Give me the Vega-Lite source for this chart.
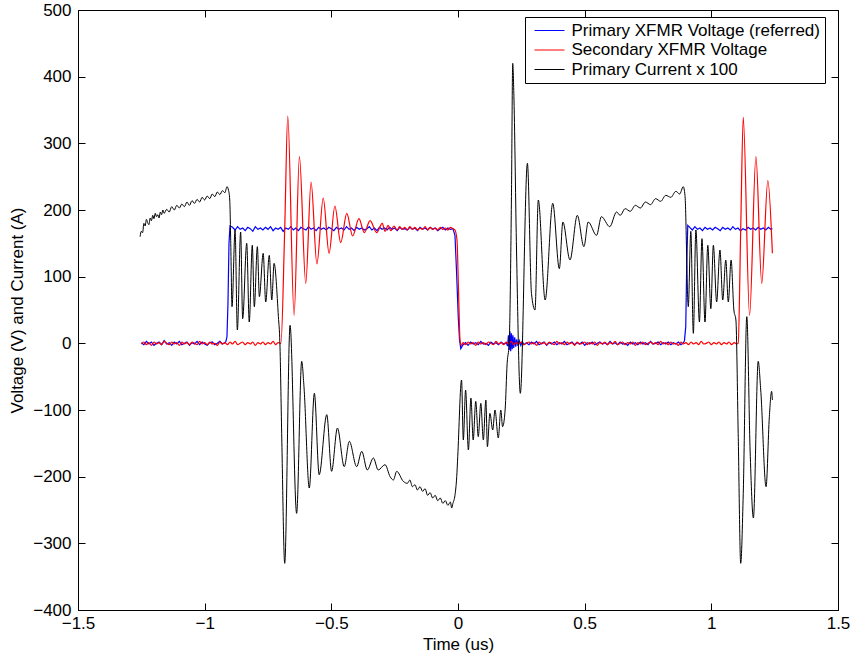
{
"$schema": "https://vega.github.io/schema/vega-lite/v6.json",
"width": 760, "height": 600,
"autosize": "none",
"padding": {"left": 78, "top": 10, "right": 12, "bottom": 49},
"background": "white",
"config": {
  "view": {"stroke": "black", "strokeWidth": 1},
  "font": "Liberation Sans",
  "axis": {"domainColor": "black", "tickColor": "black", "labelColor": "black", "titleColor": "black", "grid": false, "labelFontSize": 17, "titleFontSize": 17, "titleFontWeight": "normal", "tickSize": -7, "labelFont": "Liberation Sans", "titleFont": "Liberation Sans", "domainWidth": 1, "tickWidth": 1, "labelFlush": false}
},
"datasets": {
"pv": [
{"t":-1.25,"v":1},{"t":-1.24,"v":-2},{"t":-1.23,"v":3},{"t":-1.22,"v":-1},{"t":-1.21,"v":2},{"t":-1.2,"v":-3},{"t":-1.19,"v":0},{"t":-1.18,"v":2},{"t":-1.17,"v":-2},{"t":-1.16,"v":4},{"t":-1.15,"v":-1},{"t":-1.14,"v":1},{"t":-1.13,"v":-3},{"t":-1.12,"v":2},{"t":-1.11,"v":-1},{"t":-1.1,"v":3},{"t":-1.09,"v":-2},{"t":-1.08,"v":0},{"t":-1.07,"v":2},{"t":-1.06,"v":-3},{"t":-1.05,"v":1},{"t":-1.04,"v":-1},{"t":-1.03,"v":3},{"t":-1.02,"v":-2},{"t":-1.01,"v":2},{"t":-1.0,"v":-1},{"t":-0.99,"v":-3},{"t":-0.98,"v":1},{"t":-0.97,"v":2},{"t":-0.96,"v":-2},{"t":-0.95,"v":0},{"t":-0.94,"v":3},{"t":-0.93,"v":-1},{"t":-0.92,"v":1},
{"t":-0.916,"v":3},{"t":-0.912,"v":10},{"t":-0.908,"v":60},{"t":-0.904,"v":150},{"t":-0.9,"v":176},
{"t":-0.89,"v":174},{"t":-0.88,"v":170},{"t":-0.87,"v":175},{"t":-0.86,"v":171},{"t":-0.85,"v":173},{"t":-0.84,"v":169},{"t":-0.83,"v":174},{"t":-0.82,"v":172},{"t":-0.81,"v":168},{"t":-0.8,"v":175},{"t":-0.79,"v":171},{"t":-0.78,"v":173},{"t":-0.77,"v":170},{"t":-0.76,"v":174},{"t":-0.75,"v":171},{"t":-0.74,"v":175},{"t":-0.73,"v":169},{"t":-0.72,"v":173},{"t":-0.71,"v":171},{"t":-0.7,"v":174},{"t":-0.69,"v":168},{"t":-0.68,"v":173},{"t":-0.67,"v":171},{"t":-0.66,"v":175},{"t":-0.65,"v":170},{"t":-0.64,"v":173},{"t":-0.63,"v":169},{"t":-0.62,"v":174},{"t":-0.61,"v":172},{"t":-0.6,"v":170},{"t":-0.59,"v":175},{"t":-0.58,"v":171},{"t":-0.57,"v":173},{"t":-0.56,"v":169},{"t":-0.55,"v":174},{"t":-0.54,"v":171},{"t":-0.53,"v":173},{"t":-0.52,"v":170},{"t":-0.51,"v":174},{"t":-0.5,"v":172},{"t":-0.49,"v":169},{"t":-0.48,"v":174},{"t":-0.47,"v":171},{"t":-0.46,"v":173},{"t":-0.45,"v":170},{"t":-0.44,"v":175},{"t":-0.43,"v":171},{"t":-0.42,"v":173},{"t":-0.41,"v":169},{"t":-0.4,"v":174},{"t":-0.39,"v":171},{"t":-0.38,"v":173},{"t":-0.37,"v":170},{"t":-0.36,"v":172},{"t":-0.35,"v":175},{"t":-0.34,"v":170},{"t":-0.33,"v":173},{"t":-0.32,"v":169},{"t":-0.31,"v":174},{"t":-0.3,"v":171},{"t":-0.29,"v":173},{"t":-0.28,"v":170},{"t":-0.27,"v":174},{"t":-0.26,"v":171},{"t":-0.25,"v":173},{"t":-0.24,"v":169},{"t":-0.23,"v":174},{"t":-0.22,"v":171},{"t":-0.21,"v":172},{"t":-0.2,"v":170},{"t":-0.19,"v":174},{"t":-0.18,"v":171},{"t":-0.17,"v":173},{"t":-0.16,"v":169},{"t":-0.15,"v":174},{"t":-0.14,"v":171},{"t":-0.13,"v":173},{"t":-0.12,"v":170},{"t":-0.11,"v":174},{"t":-0.1,"v":171},{"t":-0.09,"v":173},{"t":-0.08,"v":169},{"t":-0.07,"v":172},{"t":-0.06,"v":174},{"t":-0.05,"v":170},{"t":-0.04,"v":173},{"t":-0.03,"v":171},{"t":-0.02,"v":172},
{"t":-0.012,"v":162},{"t":-0.006,"v":110},{"t":0.001,"v":40},{"t":0.006,"v":5},{"t":0.011,"v":-8},
{"t":0.02,"v":-2},{"t":0.03,"v":1},{"t":0.04,"v":-3},{"t":0.05,"v":2},{"t":0.06,"v":-1},{"t":0.07,"v":1},{"t":0.08,"v":-2},{"t":0.09,"v":3},{"t":0.1,"v":-1},{"t":0.11,"v":0},{"t":0.12,"v":-3},{"t":0.13,"v":2},{"t":0.14,"v":-1},{"t":0.15,"v":1},{"t":0.16,"v":-2},{"t":0.17,"v":2},{"t":0.18,"v":-1},{"t":0.19,"v":1},
{"t":0.196,"v":-4},{"t":0.199,"v":12},{"t":0.202,"v":-10},{"t":0.205,"v":18},{"t":0.208,"v":-12},{"t":0.211,"v":15},{"t":0.214,"v":-9},{"t":0.217,"v":12},{"t":0.22,"v":-7},{"t":0.224,"v":9},{"t":0.228,"v":-5},{"t":0.232,"v":6},{"t":0.237,"v":-4},{"t":0.242,"v":4},{"t":0.248,"v":-3},{"t":0.254,"v":3},
{"t":0.26,"v":-2},{"t":0.27,"v":1},{"t":0.28,"v":-2},{"t":0.29,"v":2},{"t":0.3,"v":-1},{"t":0.31,"v":3},{"t":0.32,"v":-2},{"t":0.33,"v":0},{"t":0.34,"v":2},{"t":0.35,"v":-3},{"t":0.36,"v":1},{"t":0.37,"v":-1},{"t":0.38,"v":2},{"t":0.39,"v":-2},{"t":0.4,"v":1},{"t":0.41,"v":-1},{"t":0.42,"v":3},{"t":0.43,"v":-2},{"t":0.44,"v":0},{"t":0.45,"v":2},{"t":0.46,"v":-2},{"t":0.47,"v":1},{"t":0.48,"v":-1},{"t":0.49,"v":2},{"t":0.5,"v":-3},{"t":0.51,"v":1},{"t":0.52,"v":-1},{"t":0.53,"v":2},{"t":0.54,"v":-2},{"t":0.55,"v":0},{"t":0.56,"v":2},{"t":0.57,"v":-1},{"t":0.58,"v":1},{"t":0.59,"v":-2},{"t":0.6,"v":3},{"t":0.61,"v":-1},{"t":0.62,"v":1},{"t":0.63,"v":-2},{"t":0.64,"v":2},{"t":0.65,"v":-1},{"t":0.66,"v":0},{"t":0.67,"v":-3},{"t":0.68,"v":2},{"t":0.69,"v":-1},{"t":0.7,"v":1},{"t":0.71,"v":-2},{"t":0.72,"v":2},{"t":0.73,"v":-1},{"t":0.74,"v":1},{"t":0.75,"v":-2},{"t":0.76,"v":3},{"t":0.77,"v":-1},{"t":0.78,"v":0},{"t":0.79,"v":2},{"t":0.8,"v":-2},{"t":0.81,"v":1},{"t":0.82,"v":-1},{"t":0.83,"v":2},{"t":0.84,"v":-2},{"t":0.85,"v":1},{"t":0.86,"v":-1},{"t":0.87,"v":2},{"t":0.88,"v":-2},{"t":0.89,"v":1},
{"t":0.894,"v":4},{"t":0.899,"v":25},{"t":0.903,"v":120},{"t":0.907,"v":177},
{"t":0.915,"v":174},{"t":0.925,"v":170},{"t":0.935,"v":175},{"t":0.945,"v":171},{"t":0.955,"v":173},{"t":0.965,"v":169},{"t":0.975,"v":174},{"t":0.985,"v":171},{"t":0.995,"v":173},{"t":1.005,"v":170},{"t":1.015,"v":174},{"t":1.025,"v":172},{"t":1.035,"v":169},{"t":1.045,"v":174},{"t":1.055,"v":171},{"t":1.065,"v":173},{"t":1.075,"v":170},{"t":1.085,"v":175},{"t":1.095,"v":171},{"t":1.105,"v":173},{"t":1.115,"v":169},{"t":1.125,"v":172},{"t":1.135,"v":170},{"t":1.145,"v":174},{"t":1.155,"v":171},{"t":1.165,"v":173},{"t":1.175,"v":170},{"t":1.185,"v":174},{"t":1.195,"v":171},{"t":1.205,"v":173},{"t":1.215,"v":170},{"t":1.225,"v":174},{"t":1.235,"v":171},{"t":1.241,"v":172}
],
"sv": [
{"t":-1.25,"v":-1},{"t":-1.24,"v":2},{"t":-1.23,"v":-2},{"t":-1.22,"v":1},{"t":-1.21,"v":-3},{"t":-1.2,"v":2},{"t":-1.19,"v":-1},{"t":-1.18,"v":1},{"t":-1.17,"v":-2},{"t":-1.16,"v":3},{"t":-1.15,"v":0},{"t":-1.14,"v":-2},{"t":-1.13,"v":2},{"t":-1.12,"v":-1},{"t":-1.11,"v":1},{"t":-1.1,"v":-3},{"t":-1.09,"v":2},{"t":-1.08,"v":-1},{"t":-1.07,"v":1},{"t":-1.06,"v":-2},{"t":-1.05,"v":2},{"t":-1.04,"v":0},{"t":-1.03,"v":-2},{"t":-1.02,"v":3},{"t":-1.01,"v":-1},{"t":-1.0,"v":1},{"t":-0.99,"v":-2},{"t":-0.98,"v":2},{"t":-0.97,"v":-1},{"t":-0.96,"v":0},{"t":-0.95,"v":-3},{"t":-0.94,"v":2},{"t":-0.93,"v":-1},{"t":-0.92,"v":1},{"t":-0.91,"v":-2},{"t":-0.9,"v":2},{"t":-0.89,"v":-1},{"t":-0.88,"v":3},{"t":-0.87,"v":-2},{"t":-0.86,"v":0},{"t":-0.85,"v":2},{"t":-0.84,"v":-2},{"t":-0.83,"v":1},{"t":-0.82,"v":-1},{"t":-0.81,"v":2},{"t":-0.8,"v":-3},{"t":-0.79,"v":1},{"t":-0.78,"v":-1},{"t":-0.77,"v":2},{"t":-0.76,"v":-2},{"t":-0.75,"v":1},{"t":-0.74,"v":-1},{"t":-0.73,"v":3},{"t":-0.72,"v":-2},{"t":-0.71,"v":1},{"t":-0.7,"v":0},
{"t":-0.699,"v":0},{"t":-0.684,"v":172},{"t":-0.672,"v":341},{"t":-0.647,"v":42},{"t":-0.626,"v":280},{"t":-0.601,"v":90},{"t":-0.58,"v":242},{"t":-0.557,"v":119},{"t":-0.532,"v":218},{"t":-0.509,"v":135},{"t":-0.486,"v":206},{"t":-0.463,"v":151},{"t":-0.439,"v":195},{"t":-0.416,"v":161},{"t":-0.391,"v":187},{"t":-0.37,"v":166},{"t":-0.347,"v":184},{"t":-0.321,"v":166},{"t":-0.299,"v":180},
{"t":-0.288,"v":168},{"t":-0.276,"v":177},{"t":-0.265,"v":169},{"t":-0.253,"v":176},{"t":-0.24,"v":170},{"t":-0.23,"v":175},{"t":-0.22,"v":171},{"t":-0.21,"v":174},{"t":-0.2,"v":170},{"t":-0.19,"v":175},{"t":-0.18,"v":171},{"t":-0.17,"v":174},{"t":-0.16,"v":170},{"t":-0.15,"v":173},{"t":-0.14,"v":171},{"t":-0.13,"v":175},{"t":-0.12,"v":170},{"t":-0.11,"v":174},{"t":-0.1,"v":171},{"t":-0.09,"v":173},{"t":-0.08,"v":170},{"t":-0.07,"v":174},{"t":-0.06,"v":171},{"t":-0.05,"v":173},{"t":-0.04,"v":170},{"t":-0.03,"v":174},{"t":-0.02,"v":172},{"t":-0.012,"v":170},
{"t":-0.004,"v":155},{"t":0.002,"v":80},{"t":0.008,"v":5},{"t":0.014,"v":-3},
{"t":0.02,"v":1},{"t":0.03,"v":-2},{"t":0.04,"v":2},{"t":0.05,"v":-1},{"t":0.06,"v":1},{"t":0.07,"v":-3},{"t":0.08,"v":2},{"t":0.09,"v":-1},{"t":0.1,"v":1},{"t":0.11,"v":-2},{"t":0.12,"v":2},{"t":0.13,"v":0},{"t":0.14,"v":-2},{"t":0.15,"v":3},{"t":0.16,"v":-1},{"t":0.17,"v":1},{"t":0.18,"v":-2},{"t":0.19,"v":2},{"t":0.2,"v":-1},{"t":0.21,"v":3},{"t":0.22,"v":-2},{"t":0.23,"v":1},{"t":0.24,"v":-1},{"t":0.25,"v":2},{"t":0.26,"v":-2},{"t":0.27,"v":0},{"t":0.28,"v":2},{"t":0.29,"v":-1},{"t":0.3,"v":1},{"t":0.31,"v":-3},{"t":0.32,"v":2},{"t":0.33,"v":-1},{"t":0.34,"v":1},{"t":0.35,"v":-2},{"t":0.36,"v":2},{"t":0.37,"v":0},{"t":0.38,"v":-2},{"t":0.39,"v":3},{"t":0.4,"v":-1},{"t":0.41,"v":1},{"t":0.42,"v":-2},{"t":0.43,"v":2},{"t":0.44,"v":-1},{"t":0.45,"v":1},{"t":0.46,"v":-3},{"t":0.47,"v":2},{"t":0.48,"v":-1},{"t":0.49,"v":0},{"t":0.5,"v":2},{"t":0.51,"v":-2},{"t":0.52,"v":1},{"t":0.53,"v":-1},{"t":0.54,"v":2},{"t":0.55,"v":-3},{"t":0.56,"v":1},{"t":0.57,"v":-1},{"t":0.58,"v":2},{"t":0.59,"v":-2},{"t":0.6,"v":1},{"t":0.61,"v":-1},{"t":0.62,"v":3},{"t":0.63,"v":-2},{"t":0.64,"v":0},{"t":0.65,"v":2},{"t":0.66,"v":-2},{"t":0.67,"v":1},{"t":0.68,"v":-1},{"t":0.69,"v":2},{"t":0.7,"v":-3},{"t":0.71,"v":1},{"t":0.72,"v":-1},{"t":0.73,"v":2},{"t":0.74,"v":-2},{"t":0.75,"v":0},{"t":0.76,"v":2},{"t":0.77,"v":-1},{"t":0.78,"v":1},{"t":0.79,"v":-2},{"t":0.8,"v":3},{"t":0.81,"v":-1},{"t":0.82,"v":1},{"t":0.83,"v":-2},{"t":0.84,"v":2},{"t":0.85,"v":-1},{"t":0.86,"v":0},{"t":0.87,"v":-3},{"t":0.88,"v":2},{"t":0.89,"v":-1},{"t":0.9,"v":1},{"t":0.91,"v":-2},{"t":0.92,"v":2},{"t":0.93,"v":-1},{"t":0.94,"v":1},{"t":0.95,"v":-2},{"t":0.96,"v":3},{"t":0.97,"v":-1},{"t":0.98,"v":0},{"t":0.99,"v":2},{"t":1.0,"v":-2},{"t":1.01,"v":1},{"t":1.02,"v":-1},{"t":1.03,"v":2},{"t":1.04,"v":-2},{"t":1.05,"v":1},{"t":1.06,"v":-1},{"t":1.07,"v":2},{"t":1.08,"v":-2},{"t":1.09,"v":1},{"t":1.1,"v":-1},{"t":1.106,"v":0},
{"t":1.116,"v":172},{"t":1.126,"v":339},{"t":1.151,"v":42},{"t":1.176,"v":280},{"t":1.199,"v":90},{"t":1.223,"v":244},{"t":1.241,"v":135}
],
"pc": [
{"t":-1.255,"v":160},{"t":-1.25,"v":168},{"t":-1.245,"v":166},{"t":-1.24,"v":180},{"t":-1.235,"v":176},{"t":-1.23,"v":186},{"t":-1.225,"v":181},{"t":-1.22,"v":178},{"t":-1.215,"v":188},{"t":-1.21,"v":184},{"t":-1.205,"v":192},{"t":-1.2,"v":187},{"t":-1.195,"v":195},{"t":-1.19,"v":190},{"t":-1.185,"v":193},{"t":-1.18,"v":188},{"t":-1.175,"v":197},{"t":-1.17,"v":193},{"t":-1.165,"v":200},{"t":-1.16,"v":195},{"t":-1.15,"v":201},{"t":-1.14,"v":197},{"t":-1.13,"v":205},{"t":-1.12,"v":200},{"t":-1.11,"v":207},{"t":-1.1,"v":203},{"t":-1.09,"v":209},{"t":-1.08,"v":205},{"t":-1.07,"v":212},{"t":-1.06,"v":207},{"t":-1.05,"v":214},{"t":-1.04,"v":210},{"t":-1.03,"v":216},{"t":-1.02,"v":212},{"t":-1.01,"v":219},{"t":-1.0,"v":215},{"t":-0.99,"v":221},{"t":-0.98,"v":217},{"t":-0.97,"v":224},{"t":-0.96,"v":220},{"t":-0.95,"v":227},{"t":-0.94,"v":223},{"t":-0.93,"v":229},{"t":-0.92,"v":226},{"t":-0.912,"v":235},{"t":-0.906,"v":230},
{"t":-0.901,"v":215},{"t":-0.897,"v":150},{"t":-0.892,"v":55},{"t":-0.88,"v":170},{"t":-0.871,"v":20},{"t":-0.858,"v":167},{"t":-0.85,"v":37},{"t":-0.834,"v":150},{"t":-0.824,"v":32},{"t":-0.812,"v":147},{"t":-0.804,"v":55},{"t":-0.792,"v":145},{"t":-0.784,"v":70},{"t":-0.769,"v":135},{"t":-0.759,"v":62},{"t":-0.745,"v":132},{"t":-0.735,"v":65},{"t":-0.726,"v":120},{"t":-0.709,"v":40},{"t":-0.703,"v":0},{"t":-0.696,"v":-135},{"t":-0.684,"v":-330},{"t":-0.663,"v":27},{"t":-0.637,"v":-255},{"t":-0.617,"v":-27},{"t":-0.608,"v":-65},{"t":-0.587,"v":-217},{"t":-0.567,"v":-75},{"t":-0.548,"v":-197},{"t":-0.518,"v":-107},{"t":-0.499,"v":-192},{"t":-0.476,"v":-127},{"t":-0.449,"v":-185},{"t":-0.429,"v":-147},{"t":-0.4,"v":-185},{"t":-0.38,"v":-162},{"t":-0.358,"v":-190},{"t":-0.334,"v":-172},{"t":-0.315,"v":-190},{"t":-0.288,"v":-182},{"t":-0.268,"v":-200},{"t":-0.255,"v":-205},{"t":-0.242,"v":-192},{"t":-0.216,"v":-207},
{"t":-0.2,"v":-210},{"t":-0.19,"v":-205},{"t":-0.18,"v":-215},{"t":-0.17,"v":-212},{"t":-0.16,"v":-220},{"t":-0.15,"v":-215},{"t":-0.14,"v":-222},{"t":-0.13,"v":-218},{"t":-0.12,"v":-228},{"t":-0.11,"v":-224},{"t":-0.1,"v":-232},{"t":-0.09,"v":-228},{"t":-0.08,"v":-236},{"t":-0.07,"v":-232},{"t":-0.06,"v":-240},{"t":-0.05,"v":-236},{"t":-0.04,"v":-243},{"t":-0.03,"v":-238},{"t":-0.025,"v":-247},{"t":-0.02,"v":-240},{"t":-0.012,"v":-228},{"t":-0.005,"v":-200},{"t":-0.001,"v":-170},
{"t":0.014,"v":-55},{"t":0.021,"v":-145},{"t":0.03,"v":-70},{"t":0.041,"v":-160},{"t":0.051,"v":-82},{"t":0.06,"v":-145},{"t":0.07,"v":-87},{"t":0.08,"v":-140},{"t":0.09,"v":-90},{"t":0.1,"v":-145},{"t":0.11,"v":-85},{"t":0.116,"v":-155},{"t":0.126,"v":-105},{"t":0.137,"v":-130},{"t":0.146,"v":-100},{"t":0.159,"v":-142},{"t":0.169,"v":-100},{"t":0.176,"v":-125},{"t":0.186,"v":-100},{"t":0.194,"v":-30},{"t":0.202,"v":0},{"t":0.211,"v":220},{"t":0.216,"v":420},{"t":0.221,"v":365},{"t":0.231,"v":140},{"t":0.246,"v":-75},{"t":0.274,"v":270},{"t":0.29,"v":75},{"t":0.304,"v":50},{"t":0.317,"v":215},{"t":0.344,"v":65},{"t":0.374,"v":210},{"t":0.4,"v":112},{"t":0.414,"v":182},{"t":0.442,"v":125},{"t":0.471,"v":192},{"t":0.497,"v":145},{"t":0.514,"v":182},{"t":0.547,"v":162},{"t":0.566,"v":190},{"t":0.599,"v":175},{"t":0.626,"v":197},
{"t":0.64,"v":192},{"t":0.66,"v":202},{"t":0.68,"v":198},{"t":0.7,"v":207},{"t":0.72,"v":203},{"t":0.74,"v":212},{"t":0.76,"v":208},{"t":0.78,"v":217},{"t":0.8,"v":213},{"t":0.82,"v":222},{"t":0.84,"v":219},{"t":0.86,"v":228},{"t":0.875,"v":224},{"t":0.889,"v":235},{"t":0.896,"v":222},
{"t":0.909,"v":55},{"t":0.919,"v":168},{"t":0.929,"v":15},{"t":0.939,"v":170},{"t":0.953,"v":32},{"t":0.963,"v":157},{"t":0.975,"v":32},{"t":0.986,"v":147},{"t":0.998,"v":52},{"t":1.008,"v":147},{"t":1.021,"v":62},{"t":1.034,"v":140},{"t":1.045,"v":65},{"t":1.057,"v":125},{"t":1.067,"v":62},{"t":1.078,"v":125},{"t":1.089,"v":50},{"t":1.097,"v":35},{"t":1.106,"v":-135},{"t":1.116,"v":-330},{"t":1.126,"v":-225},{"t":1.14,"v":40},{"t":1.153,"v":-160},{"t":1.166,"v":-262},{"t":1.185,"v":-27},{"t":1.195,"v":-70},{"t":1.216,"v":-215},{"t":1.229,"v":-110},{"t":1.238,"v":-72},{"t":1.241,"v":-85}
]
},
"layer": [
{
  "data": {"name": "pv"},
  "mark": {"type": "line", "strokeWidth": 1.2},
  "encoding": {
    "x": {"field": "t", "type": "quantitative", "scale": {"domain": [-1.5, 1.5], "nice": false, "zero": false},
      "axis": {"values": [-1.5, -1, -0.5, 0, 0.5, 1, 1.5], "format": "~g", "title": "Time (us)", "labelPadding": 12, "titlePadding": 5}},
    "y": {"field": "v", "type": "quantitative", "scale": {"domain": [-400, 500], "nice": false, "zero": false},
      "axis": {"values": [-400, -300, -200, -100, 0, 100, 200, 300, 400, 500], "title": "Voltage (V) and Current (A)", "labelPadding": 14, "titlePadding": 6}},
    "color": {"datum": "Primary XFMR Voltage (referred)", "type": "nominal",
      "scale": {"domain": ["Primary XFMR Voltage (referred)", "Secondary XFMR Voltage", "Primary Current x 100"], "range": ["#0000ff", "#ff0000", "#000000"]},
      "legend": {"title": null, "orient": "none", "legendX": 447, "legendY": 7, "strokeColor": "black", "fillColor": "white", "padding": 5, "labelFontSize": 17, "labelFont": "Liberation Sans", "labelColor": "black", "labelOffset": 24.5, "symbolSize": 100, "symbolStrokeWidth": 1, "symbolType": "M-0.8,0H5.2", "rowPadding": 1.5, "labelLimit": 500, "cornerRadius": 0}}
  }
},
{
  "data": {"name": "sv"},
  "mark": {"type": "line", "strokeWidth": 1.2, "interpolate": "monotone"},
  "encoding": {
    "x": {"field": "t", "type": "quantitative", "axis": {"orient": "top", "values": [-1.5, -1, -0.5, 0, 0.5, 1, 1.5], "labels": false, "title": null}},
    "y": {"field": "v", "type": "quantitative", "axis": {"orient": "right", "values": [-400, -300, -200, -100, 0, 100, 200, 300, 400, 500], "labels": false, "title": null}},
    "color": {"datum": "Secondary XFMR Voltage", "type": "nominal"}
  }
},
{
  "data": {"name": "pc"},
  "mark": {"type": "line", "strokeWidth": 1, "interpolate": "monotone"},
  "encoding": {
    "x": {"field": "t", "type": "quantitative", "axis": null},
    "y": {"field": "v", "type": "quantitative", "axis": null},
    "color": {"datum": "Primary Current x 100", "type": "nominal"}
  }
}
],
"resolve": {"axis": {"x": "independent", "y": "independent"}}
}
